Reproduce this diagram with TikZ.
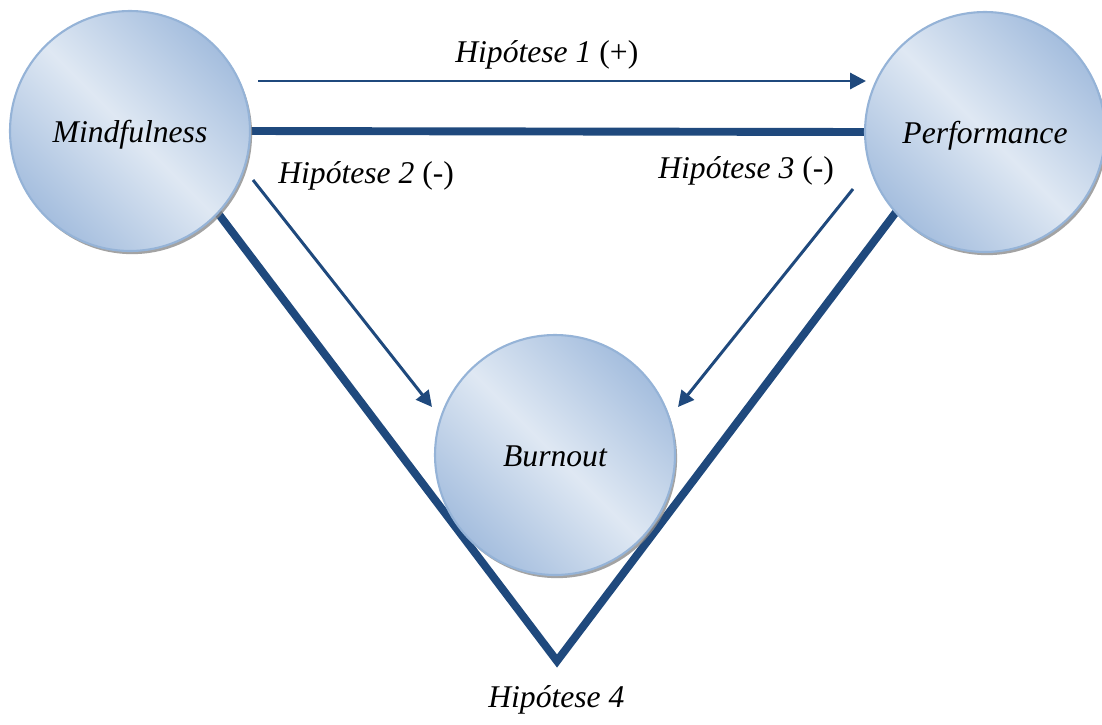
\documentclass[tikz,border=0pt]{standalone}
\usepackage{fontspec}
\setmainfont{Liberation Serif}
\usetikzlibrary{shadows,backgrounds,arrows.meta}
\definecolor{linkblue}{RGB}{31,73,125}
\definecolor{ballrim}{RGB}{149,179,215}
\definecolor{balldark}{RGB}{165,190,222}
\definecolor{balllight}{RGB}{223,232,243}
\tikzset{
  ball/.style={circle, minimum size=4.8cm, inner sep=0pt, outer sep=0pt,
    draw=ballrim, line width=1.2pt,
    top color=balldark, bottom color=balldark, middle color=balllight,
    shading angle=-45,
    drop shadow={shadow xshift=1.2pt, shadow yshift=-1.8pt, fill=black!45, opacity=.8},
    text height=13.5pt, text depth=0.5pt,
    font=\fontsize{18}{21}\selectfont\itshape},
  hyplabel/.style={anchor=base west, inner sep=0pt, font=\fontsize{18}{21}\selectfont},
  thicklink/.style={draw=linkblue, line width=4.5pt, line join=miter},
  arrowlink/.style={draw=linkblue, line width=1.7pt, -{Triangle[length=9pt,width=9pt]}}
}
\begin{document}
\begin{tikzpicture}[x=0.02cm,y=-0.02cm]
    \useasboundingbox (0,0) rectangle (1102,724);
    % circles
    \node[ball] (mind) at (130,131) {Mindfulness};
    \node[ball] (perf) at (985,132) {Performance};
    \node[ball] (burn) at (555,455) {Burnout};
    % free ends of the connectors
    \coordinate (vtx) at (557,661);
    \coordinate (h1s) at (258,81);
    \coordinate (h1e) at (866,81);
    \coordinate (h2s) at (253,180);
    \coordinate (h2e) at (432,407);
    \coordinate (h3s) at (853,189);
    \coordinate (h3e) at (678,407);
    \begin{pgfonlayer}{background}
      \draw[thicklink] (mind.east) -- (perf.west);
      \draw[thicklink] (mind.-43) -- (vtx) -- (perf.-138);
    \end{pgfonlayer}
    \draw[arrowlink] (h1s) -- (h1e);
    \draw[arrowlink] (h2s) -- (h2e);
    \draw[arrowlink] (h3s) -- (h3e);
    % labels
    \node[hyplabel] (lab1) at (455,62) {\textit{Hipótese 1} (+)};
    \node[hyplabel] (lab2) at (278,183) {\textit{Hipótese 2} (-)};
    \node[hyplabel] (lab3) at (658,178) {\textit{Hipótese 3} (-)};
    \node[hyplabel] (lab4) at (488,707) {\textit{Hipótese 4}};
  \end{tikzpicture}
\end{document}
